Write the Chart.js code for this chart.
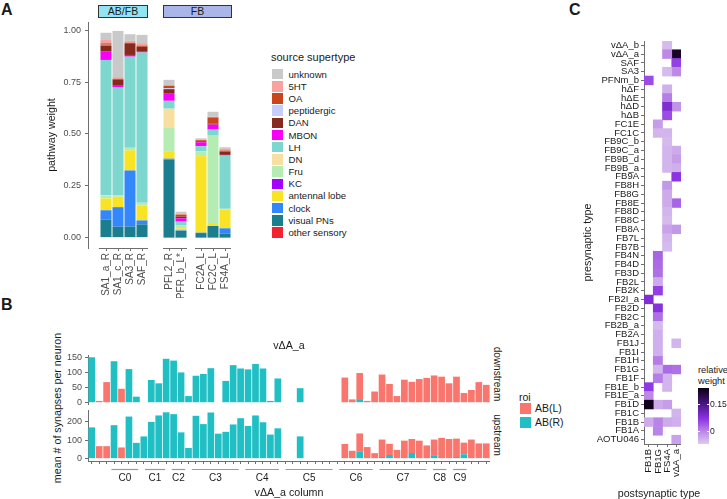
<!DOCTYPE html>
<html>
<head>
<meta charset="utf-8">
<script src="https://cdn.jsdelivr.net/npm/chart.js@4.4.1/dist/chart.umd.min.js"></script>
<style>
body { margin: 0; background: #fff; }
#fig { position: relative; width: 727px; height: 499px; overflow: hidden; background: #fff;
       font-family: "Liberation Sans", Arial, sans-serif; color: #1a1a1a; }
#fig canvas { position: absolute; }
.lbl { position: absolute; white-space: nowrap; }
.letter { font-weight: bold; font-size: 16px; line-height: 17px; }
.strip { position: absolute; box-sizing: border-box; border: 1px solid #333; font-size: 10.5px;
         line-height: 11px; text-align: center; color: #1a1a1a; }
.rot { transform: translate(-50%, -50%) rotate(-90deg); font-size: 10.7px; }
.rotR { transform: translate(-50%, -50%) rotate(90deg); font-size: 10px; color: #1a1a1a; }
.ctr { transform: translate(-50%, -50%); font-size: 10.7px; }
#legendA { position: absolute; left: 271px; top: 51px; font-size: 9.6px; }
#legendA .ttl { font-size: 11px; height: 17px; line-height: 13px; }
.lrow { height: 12.2px; display: flex; align-items: center; white-space: nowrap; }
.key { display: inline-block; width: 10.5px; height: 10.5px; margin: 0 6px 0 1px; }
#legendB { position: absolute; left: 519px; top: 391px; font-size: 10.5px; }
#legendB .ttl { height: 10px; line-height: 12px; }
#legendB .lrow { height: 14.3px; }
#legendB .key { width: 11px; height: 11px; margin: 0 4px 0 1px; }
#cbar { position: absolute; left: 698px; top: 388px; width: 11px; height: 56px; }
.cb-tick { position: absolute; height: 1px; width: 2px; background: #fff; }
</style>
</head>
<body>
<div id="fig">
  <div class="lbl letter" style="left:1px;top:1px">A</div>
  <div class="lbl letter" style="left:1px;top:296px">B</div>
  <div class="lbl letter" style="left:569px;top:1px">C</div>

  <div class="strip" style="left:98px;top:5px;width:50px;height:13px;background:#92e4f3">AB/FB</div>
  <div class="strip" style="left:163px;top:5px;width:69px;height:13px;background:#aab6e7">FB</div>
  <canvas id="a1" width="110" height="276" style="left:38px;top:22px"></canvas>
  <canvas id="a2" width="24" height="276" style="left:163px;top:22px"></canvas>
  <canvas id="a3" width="36" height="276" style="left:195px;top:22px"></canvas>
  <div id="legendA"><div class="ttl">source supertype</div></div>

  <div class="lbl rot" style="left:57px;top:408px">mean # of synapses per neuron</div>
  <div class="lbl rotR" style="left:497px;top:374px">downstream</div>
  <div class="lbl rotR" style="left:497px;top:435px">upstream</div>
  <canvas id="bDown" width="452" height="67" style="left:38px;top:338px"></canvas>
  <canvas id="bUp" width="452" height="89" style="left:38px;top:410px"></canvas>
  <div id="legendB"><div class="ttl">roi</div></div>

  <canvas id="heat" width="103" height="458" style="left:578px;top:41px"></canvas>
  <div class="lbl ctr" style="left:659px;top:493px">postsynaptic type</div>
  <div class="lbl" style="left:698px;top:365px;font-size:9.3px;line-height:11px">relative<br>weight</div>
  <div id="cbar"></div>
</div>

<script>
// ---------- panel A: pathway weight per target type ----------
const targetTypes = ['SA1_a_R', 'SA1_c_R', 'SA3_R', 'SAF_R', 'PFL2_R', 'PFR_b_L*', 'FC2A_L', 'FC2C_L', 'FS4A_L'];
const facetBreaks = [0, 4, 6, 9];
const supertypes = ['unknown', '5HT', 'OA', 'peptidergic', 'DAN', 'MBON', 'LH', 'DN', 'Fru', 'KC',
                    'antennal lobe', 'clock', 'visual PNs', 'other sensory'];
const supertypeColors = ['#c9c9c9', '#f7a1a1', '#c9461c', '#c5cdfa', '#852a1d', '#f700f7', '#7dd7cf',
                         '#f6dfa1', '#b5ecb4', '#a600ff', '#f8e324', '#3486fb', '#1b7e8e', '#f4232f'];
const wUnknown      = [0.035, 0.223, 0.032, 0.040, 0.025, 0.010, 0.005, 0.024, 0.008];
const w5HT          = [0.016, 0.008, 0.009, 0.012, 0.004, 0.004, 0.004, 0.003, 0.008];
const wOA           = [0.007, 0.005, 0.006, 0.005, 0.011, 0.010, 0.005, 0.030, 0.005];
const wPeptidergic  = [0.003, 0, 0, 0, 0.005, 0, 0, 0, 0];
const wDAN          = [0.030, 0.025, 0.053, 0.021, 0.022, 0.008, 0.005, 0.005, 0.016];
const wMBON         = [0.040, 0.012, 0.008, 0.007, 0.034, 0.016, 0.019, 0.024, 0.003];
const wLH           = [0.652, 0.519, 0.440, 0.725, 0.038, 0.018, 0.024, 0.029, 0.257];
const wDN           = [0.004, 0, 0, 0, 0.090, 0, 0, 0, 0];
const wFru          = [0.012, 0.008, 0.012, 0.013, 0.115, 0.014, 0.024, 0.426, 0.004];
const wKC           = [0, 0, 0, 0, 0, 0, 0, 0, 0];
const wAntennalLobe = [0.057, 0.050, 0.097, 0.072, 0.036, 0.010, 0.369, 0.010, 0.090];
const wClock        = [0.045, 0.094, 0.271, 0.019, 0.004, 0.003, 0.002, 0, 0.026];
const wVisualPNs    = [0.087, 0.053, 0.053, 0.064, 0.377, 0.032, 0.022, 0.056, 0.019];
const wOtherSensory = [0, 0, 0, 0, 0, 0, 0, 0, 0];
const weightTicks = [0, 0.25, 0.5, 0.75, 1];

// ---------- panel B: synapses per vDA_a column ----------
const groupNames = ['C0', 'C1', 'C2', 'C3', 'C4', 'C5', 'C6', 'C7', 'C8', 'C9'];
const groupSizes = [5, 4, 3, 8, 6, 8, 6, 8, 3, 3];
const roiNames = ['AB(L)', 'AB(R)'];
const roiColors = ['#f8766d', '#1fbfc4'];
const downstreamL = [0, 6, 68, 0, 46,  0, 0, 0, 0,  0, 0, 0,  0, 0, 0, 0, 0, 0, 0, 0,
                     0, 0, 0, 0, 0, 0,  0, 0, 0, 0, 0, 0, 0, 0,  83, 11, 89, 6, 37, 93,
                     62, 22, 76, 69, 78, 82, 90, 86,  64, 86, 32,  42, 68, 59];
const downstreamR = [150, 0, 0, 137, 0,  111, 20, 0, 75,  64, 145, 139,  100, 22, 89, 95, 114, 0, 72, 124,
                     113, 110, 128, 113, 6, 80,  0, 0, 48, 0, 0, 0, 0, 0,  0, 0, 9, 0, 0, 0,
                     0, 0, 0, 0, 0, 0, 0, 0,  0, 0, 0,  0, 0, 0];
const upstreamL = [0, 68, 68, 0, 61,  0, 0, 0, 0,  0, 0, 0,  0, 0, 0, 0, 0, 0, 0, 0,
                   0, 0, 0, 0, 0, 0,  0, 0, 0, 0, 0, 0, 0, 0,  80, 43, 100, 63, 30, 95,
                   61, 48, 98, 76, 98, 72, 89, 113,  107, 100, 63,  104, 79, 83];
const upstreamR = [170, 0, 0, 182, 0,  229, 86, 121, 200,  235, 252, 242,  143, 58, 233, 188, 251, 136, 146, 186,
                   220, 178, 235, 198, 131, 165,  0, 0, 121, 0, 0, 0, 0, 0,  0, 0, 37, 0, 0, 9,
                   20, 0, 0, 31, 0, 0, 15, 0,  0, 9, 24,  0, 4, 0];
const downTicks = [0, 50, 100, 150];
const upTicks = [0, 100, 200];

// ---------- panel C: relative weight heatmap ----------
const heatColumns = ['FB1B', 'FB1G', 'FS4A', 'vΔA_a'];
const heatRows = ['vΔA_b', 'vΔA_a', 'SAF', 'SA3', 'PFNm_b', 'hΔF', 'hΔE', 'hΔD', 'hΔB', 'FC1E',
  'FC1C', 'FB9C_b', 'FB9C_a', 'FB9B_d', 'FB9B_a', 'FB9A', 'FB8H', 'FB8G', 'FB8E', 'FB8D',
  'FB8C', 'FB8A', 'FB7L', 'FB7B', 'FB4N', 'FB4D', 'FB3D', 'FB2L', 'FB2K', 'FB2I_a',
  'FB2D', 'FB2C', 'FB2B_a', 'FB2A', 'FB1J', 'FB1I', 'FB1H', 'FB1G', 'FB1F', 'FB1E_b',
  'FB1E_a', 'FB1D', 'FB1C', 'FB1B', 'FB1A', 'AOTU046'];
const wToFB1B = [
  null, null, null, null, 0.05, null, null, null, null, null,
  null, null, null, null, null, null, null, null, null, null,
  null, null, null, null, null, null, null, null, null, 0.085,
  null, null, null, null, null, null, null, null, null, 0.065,
  0.0, 0.23, null, -0.035, null, null];
const wToFB1G = [
  null, null, null, null, null, null, null, null, null, -0.02,
  -0.045, null, null, null, null, null, null, null, null, null,
  null, null, null, null, 0.03, 0.025, 0.02, -0.035, 0.06, null,
  0.075, 0.02, -0.05, -0.04, -0.04, -0.04, 0.01, -0.045, 0.01, null,
  null, -0.035, null, 0.005, 0.005, null];
const wToFS4A = [
  -0.05, 0.0, null, -0.05, null, -0.04, 0.01, 0.085, 0.05, null,
  -0.045, -0.05, -0.045, -0.045, -0.045, null, -0.015, -0.035, -0.035, -0.045,
  -0.05, -0.025, -0.045, -0.05, null, null, null, null, null, null,
  null, null, null, null, null, null, null, 0.025, -0.045, -0.045,
  null, -0.02, null, -0.035, null, null];
const wToVdAa = [
  null, 0.22, 0.06, 0.0, null, null, null, -0.01, null, null,
  null, null, -0.035, -0.02, -0.04, 0.07, null, null, 0.03, null,
  null, -0.015, null, null, null, null, null, null, null, null,
  null, null, null, null, -0.045, null, null, 0.02, null, null,
  null, null, -0.045, -0.04, null, -0.025];
const colorStops = [-0.067, 0.0, 0.07, 0.15, 0.237];
const colorStopColors = ['#ddcaf0', '#bc8ae6', '#8c33e3', '#4a1686', '#0a0010'];
const colorbarTicks = [0, 0.15];

// ---------- shared styling ----------
const AXIS = '#6e6e6e';
const TICK_TEXT = '#4d4d4d';
Chart.defaults.font.family = '"Liberation Sans", Arial, sans-serif';
Chart.defaults.color = TICK_TEXT;

function baseOptions() {
  return {
    responsive: false,
    animation: false,
    events: [],
    layout: { padding: 0, autoPadding: false },
    plugins: { legend: { display: false }, tooltip: { enabled: false } }
  };
}

// fixed scale box sizes, and no extra room kept for overhanging labels
function fixSize(prop, px) {
  return s => {
    s[prop] = px;
    s.paddingLeft = s.paddingRight = s.paddingTop = s.paddingBottom = 0;
  };
}

// ---------- panel A ----------
const supertypeWeights = [wUnknown, w5HT, wOA, wPeptidergic, wDAN, wMBON, wLH, wDN, wFru, wKC,
                          wAntennalLobe, wClock, wVisualPNs, wOtherSensory];

// x axis line of the first facet starts just before its first bar, not at the y axis
const facetBaseline = {
  id: 'facetBaseline',
  afterDraw(chart) {
    const x = chart.scales.x;
    const ctx = chart.ctx;
    ctx.save();
    ctx.strokeStyle = AXIS;
    ctx.lineWidth = 1;
    ctx.beginPath();
    ctx.moveTo(x.getPixelForValue(0.4), x.top + 0.5);
    ctx.lineTo(x.right, x.top + 0.5);
    ctx.stroke();
    ctx.restore();
  }
};

function facetChart(canvasId, facet, showY) {
  const from = facetBreaks[facet], to = facetBreaks[facet + 1];
  const spacer = showY ? [''] : [];
  const datasets = supertypes.map((name, k) => ({
    label: name,
    data: spacer.map(() => null).concat(supertypeWeights[k].slice(from, to)),
    backgroundColor: supertypeColors[k],
    barPercentage: 0.92,
    categoryPercentage: 1,
    borderWidth: 0
  })).reverse();   // first legend entry sits on top of the stack

  new Chart(document.getElementById(canvasId), {
    type: 'bar',
    data: { labels: spacer.concat(targetTypes.slice(from, to)), datasets },
    options: Object.assign(baseOptions(), {
      scales: {
        x: {
          stacked: true,
          ticks: { autoSkip: false, minRotation: 90, maxRotation: 90, font: { size: 10 }, color: TICK_TEXT, padding: 2 },
          grid: {
            offset: false, drawOnChartArea: false, tickLength: 3,
            color: ctx => (showY && ctx.index === 0) ? 'rgba(0,0,0,0)' : AXIS
          },
          border: { display: !showY, color: AXIS },
          afterFit: fixSize('height', 50)
        },
        y: {
          stacked: true,
          display: showY,
          min: -0.05,
          max: 1.04,
          afterBuildTicks: s => { s.ticks = weightTicks.map(v => ({ value: v })); },
          ticks: { callback: v => v.toFixed(2), font: { size: 9 }, color: TICK_TEXT, padding: 4 },
          grid: { drawOnChartArea: false, tickLength: 3, color: AXIS },
          border: { color: AXIS },
          title: { display: true, text: 'pathway weight', font: { size: 10.7 }, color: '#1a1a1a', padding: { top: 8, bottom: 0 } },
          afterFit: fixSize('width', showY ? 50 : 0)
        }
      }
    }),
    plugins: showY ? [facetBaseline] : []
  });
}
facetChart('a1', 0, true);
facetChart('a2', 1, false);
facetChart('a3', 2, false);

const legendA = document.getElementById('legendA');
supertypes.forEach((name, k) => {
  const row = document.createElement('div');
  row.className = 'lrow';
  row.innerHTML = '<span class="key" style="background:' + supertypeColors[k] + '"></span>' + name;
  legendA.appendChild(row);
});

// ---------- panel B ----------
const columnIds = groupNames.flatMap((g, i) => Array.from({ length: groupSizes[i] }, (_, k) => g + '.' + (k + 1)));
const groupCenters = [];
const groupSpans = [];
let start = 0;
groupSizes.forEach(n => {
  groupSpans.push([start + 0.5, start + n - 0.5]);
  groupCenters.push(start + n / 2);
  start += n;
});

function roiDatasets(left, right) {
  // AB(R) at the bottom of each bar, AB(L) above it
  return [
    { label: roiNames[1], data: right, backgroundColor: roiColors[1] },
    { label: roiNames[0], data: left, backgroundColor: roiColors[0] }
  ];
}

function countAxis(min, max, ticks) {
  return {
    stacked: true, min, max,
    afterBuildTicks: s => { s.ticks = ticks.map(v => ({ value: v })); },
    ticks: { font: { size: 9 }, color: TICK_TEXT, padding: 3 },
    grid: { drawOnChartArea: false, tickLength: 3, color: AXIS },
    border: { color: AXIS },
    afterFit: fixSize('width', 50)
  };
}

new Chart(document.getElementById('bDown'), {
  type: 'bar',
  data: { labels: columnIds, datasets: roiDatasets(downstreamL, downstreamR) },
  options: Object.assign(baseOptions(), {
    datasets: { bar: { barPercentage: 0.9, categoryPercentage: 1, borderWidth: 0 } },
    scales: {
      x: {
        stacked: true, position: 'top',
        ticks: { display: false }, grid: { display: false }, border: { display: false },
        title: { display: true, text: 'vΔA_a', font: { size: 10.7 }, color: '#1a1a1a', padding: { top: 2, bottom: 0 } },
        afterFit: fixSize('height', 17)
      },
      y: countAxis(-7.5, 157.5, downTicks)
    }
  })
});

const groupUnderline = {
  id: 'groupUnderline',
  afterDraw(chart) {
    const s = chart.scales.xg;
    const ctx = chart.ctx;
    ctx.save();
    ctx.strokeStyle = '#9a9a9a';
    ctx.lineWidth = 1.2;
    groupSpans.forEach(([a, b]) => {
      ctx.beginPath();
      ctx.moveTo(s.getPixelForValue(a), s.top + 3.5);
      ctx.lineTo(s.getPixelForValue(b), s.top + 3.5);
      ctx.stroke();
    });
    ctx.restore();
  }
};

new Chart(document.getElementById('bUp'), {
  type: 'bar',
  data: { labels: columnIds, datasets: roiDatasets(upstreamL, upstreamR) },
  options: Object.assign(baseOptions(), {
    datasets: { bar: { barPercentage: 0.9, categoryPercentage: 1, borderWidth: 0 } },
    scales: {
      x: {
        stacked: true, weight: 0,
        ticks: { display: false },
        grid: { offset: false, drawOnChartArea: false, tickLength: 3, color: AXIS },
        border: { color: AXIS },
        afterFit: fixSize('height', 5)
      },
      xg: {
        type: 'linear', position: 'bottom', weight: 1, min: 0, max: columnIds.length,
        afterBuildTicks: s => { s.ticks = groupCenters.map(v => ({ value: v })); },
        ticks: { callback: (v, i) => groupNames[i], font: { size: 10 }, color: '#1a1a1a', padding: 6, maxRotation: 0, autoSkip: false },
        grid: { display: false, drawTicks: false },
        border: { display: false },
        title: { display: true, text: 'vΔA_a column', font: { size: 10.7 }, color: '#1a1a1a', padding: { top: 0, bottom: 0 } },
        afterFit: fixSize('height', 33)
      },
      y: countAxis(-12.6, 264.6, upTicks)
    }
  }),
  plugins: [groupUnderline]
});

const legendB = document.getElementById('legendB');
roiNames.forEach((name, k) => {
  const row = document.createElement('div');
  row.className = 'lrow';
  row.innerHTML = '<span class="key" style="background:' + roiColors[k] + '"></span>' + name;
  legendB.appendChild(row);
});

// ---------- panel C ----------
function hexRgb(h) {
  return [1, 3, 5].map(i => parseInt(h.slice(i, i + 2), 16));
}
function weightColor(v) {
  let i = 0;
  while (i < colorStops.length - 2 && v > colorStops[i + 1]) i++;
  const t = Math.min(1, Math.max(0, (v - colorStops[i]) / (colorStops[i + 1] - colorStops[i])));
  const a = hexRgb(colorStopColors[i]), b = hexRgb(colorStopColors[i + 1]);
  const c = a.map((x, j) => Math.round(x + (b[j] - x) * t));
  return 'rgb(' + c.join(',') + ')';
}

const heatWeights = [wToFB1B, wToFB1G, wToFS4A, wToVdAa];
const heatDatasets = heatColumns.map((col, c) => ({
  label: col,
  data: heatWeights[c].map(v => v === null ? null : [c, c + 1]),
  backgroundColor: heatWeights[c].map(v => v === null ? 'rgba(0,0,0,0)' : weightColor(v)),
  grouped: false,
  barPercentage: 1,
  categoryPercentage: 1,
  borderWidth: 0
}));

new Chart(document.getElementById('heat'), {
  type: 'bar',
  data: { labels: heatRows, datasets: heatDatasets },
  options: Object.assign(baseOptions(), {
    indexAxis: 'y',
    scales: {
      x: {
        type: 'linear', min: 0, max: heatColumns.length,
        afterBuildTicks: s => { s.ticks = heatColumns.map((_, i) => ({ value: i + 0.5 })); },
        ticks: { callback: (v, i) => heatColumns[i], autoSkip: false, minRotation: 90, maxRotation: 90,
                 font: { size: 9.5 }, color: '#1a1a1a', padding: 2 },
        grid: { drawOnChartArea: false, tickLength: 3, color: AXIS },
        border: { color: AXIS },
        afterFit: fixSize('height', 55)
      },
      y: {
        ticks: { autoSkip: false, font: { size: 9.5 }, color: '#1a1a1a', padding: 2 },
        grid: { offset: false, drawOnChartArea: false, tickLength: 3, color: AXIS },
        border: { color: AXIS },
        title: { display: true, text: 'presynaptic type', font: { size: 10.7 }, color: '#1a1a1a', padding: { top: 4, bottom: 0 } },
        afterFit: fixSize('width', 66)
      }
    }
  })
});

// colour bar for the heatmap
const cbar = document.getElementById('cbar');
const cbMin = colorStops[0], cbMax = colorStops[colorStops.length - 1];
const cbH = 56, cbTop = 388;
const pct = v => ((v - cbMin) / (cbMax - cbMin) * 100).toFixed(1) + '%';
cbar.style.background = 'linear-gradient(to top, ' +
  colorStops.map((v, i) => colorStopColors[i] + ' ' + pct(v)).join(', ') + ')';
colorbarTicks.forEach(v => {
  const y = cbH - (v - cbMin) / (cbMax - cbMin) * cbH;
  ['0px', '9px'].forEach(x => {
    const t = document.createElement('div');
    t.className = 'cb-tick';
    t.style.left = x;
    t.style.top = (y - 0.5) + 'px';
    cbar.appendChild(t);
  });
  const lab = document.createElement('div');
  lab.className = 'lbl';
  lab.style.cssText = 'left:710px;font-size:8.6px;line-height:11px;color:#1a1a1a;top:' + (cbTop + y - 5.5) + 'px';
  lab.textContent = String(v);
  document.getElementById('fig').appendChild(lab);
});
</script>
</body>
</html>
